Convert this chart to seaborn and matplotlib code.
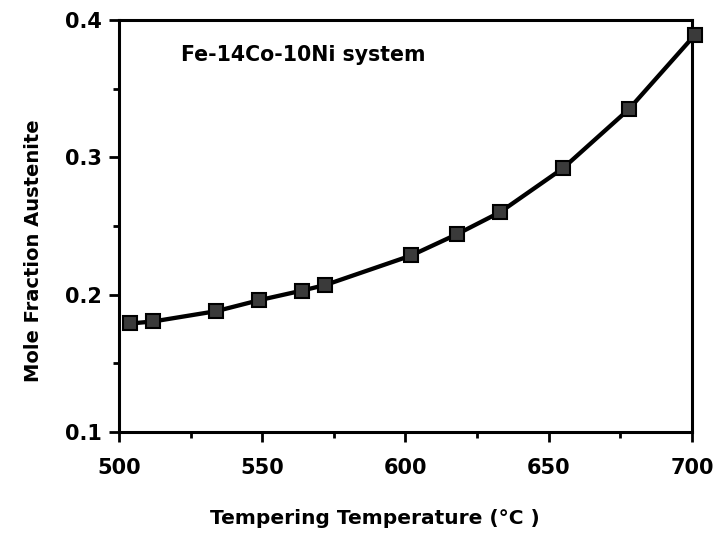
import matplotlib
matplotlib.use("Agg")
import matplotlib.pyplot as plt
import seaborn as sns
import pandas as pd
from matplotlib.ticker import MultipleLocator

# Tempering temperature (°C) and mole fraction of austenite
temperature_c = [504, 512, 534, 549, 564, 572, 602, 618, 633, 655, 678, 701]
austenite_fraction = [0.179, 0.1805, 0.188, 0.196, 0.203, 0.207,
                      0.2285, 0.244, 0.260, 0.292, 0.335, 0.389]

x_ticks = [500, 550, 600, 650, 700]
y_ticks = [0.1, 0.2, 0.3, 0.4]
system_label = "Fe-14Co-10Ni system"

df = pd.DataFrame({"T": temperature_c, "f": austenite_fraction})

sns.set_style("ticks")
plt.rcParams["font.family"] = ["DejaVu Sans"]

fig = plt.figure(figsize=(7.17, 5.38), dpi=100)
ax = fig.add_axes([0.166, 0.197, 0.799, 0.766])

sns.lineplot(data=df, x="T", y="f", ax=ax, color="black", linewidth=3.1,
             marker="s", markersize=10, markerfacecolor="#3a3a3a",
             markeredgecolor="black", markeredgewidth=1.5, clip_on=False,
             zorder=5)

ax.set_xlim(500, 700)
ax.set_ylim(0.1, 0.4)
ax.set_xticks(x_ticks)
ax.set_yticks(y_ticks)
ax.set_xticklabels([str(v) for v in x_ticks])
ax.set_yticklabels([f"{v:.1f}" for v in y_ticks])
ax.xaxis.set_minor_locator(MultipleLocator(25))
ax.yaxis.set_minor_locator(MultipleLocator(0.05))

for side in ["top", "right", "bottom", "left"]:
    ax.spines[side].set_visible(True)
    ax.spines[side].set_linewidth(2.2)
    ax.spines[side].set_color("black")

ax.tick_params(which="major", direction="out", length=7, width=2,
               color="black", top=False, right=False)
ax.tick_params(which="minor", direction="out", length=4, width=2,
               color="black", top=False, right=False)
ax.tick_params(axis="x", which="major", pad=12)
ax.tick_params(axis="y", which="major", pad=5)
for lbl in ax.get_xticklabels() + ax.get_yticklabels():
    lbl.set_fontsize(15)
    lbl.set_fontweight("bold")
    lbl.set_color("black")

ax.set_xlabel("Tempering Temperature (°C )", fontsize=14.5,
              fontweight="bold", color="black")
ax.set_ylabel("Mole Fraction Austenite", fontsize=14,
              fontweight="bold", color="black")
ax.xaxis.label.set_va("center")
ax.yaxis.label.set_va("center")
ax.xaxis.set_label_coords(0.447, -0.209)
ax.yaxis.set_label_coords(-0.15, 0.44)

ax.text(0.108, 0.915, system_label, transform=ax.transAxes, fontsize=14.8,
        fontweight="bold", ha="left", va="center", color="black")

fig.savefig("out.png", dpi=100, facecolor="white")
